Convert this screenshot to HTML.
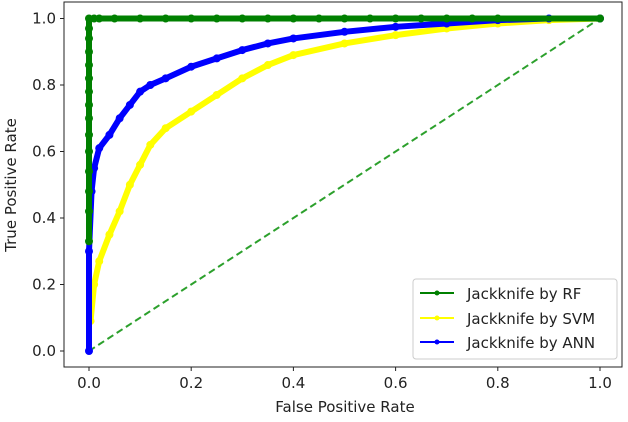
<!DOCTYPE html>
<html><head><meta charset="utf-8"><style>
body{margin:0;background:#fff;font-family:"Liberation Sans","DejaVu Sans",sans-serif;}
svg text{font-family:"DejaVu Sans","Liberation Sans",sans-serif;fill:#222;}
</style></head><body>
<svg id="chart" width="628" height="417" viewBox="0 0 628 417">
<rect x="0" y="0" width="628" height="417" fill="#fff"/>
<g id="plot"></g>
<rect x="64" y="2" width="558" height="365" fill="none" stroke="#222" stroke-width="1"/>
<g id="ticks"></g>
<text x="345" y="412" font-size="15" text-anchor="middle">False Positive Rate</text>
<text x="16" y="185" font-size="15" text-anchor="middle" transform="rotate(-90 16 185)">True Positive Rate</text>
<g>
<rect x="413" y="279" width="204" height="80" fill="#fff" fill-opacity="0.8" stroke="#ccc" rx="3"/>
<g><line x1="420" y1="293" x2="454" y2="293" stroke="green" stroke-width="2"/><circle cx="437" cy="293" r="2.5" fill="green"/><text x="467" y="299" font-size="15">Jackknife by RF</text></g>
<g><line x1="420" y1="318" x2="454" y2="318" stroke="yellow" stroke-width="2"/><circle cx="437" cy="318" r="2.5" fill="yellow"/><text x="467" y="324" font-size="15">Jackknife by SVM</text></g>
<g><line x1="420" y1="342" x2="454" y2="342" stroke="blue" stroke-width="2"/><circle cx="437" cy="342" r="2.5" fill="blue"/><text x="467" y="348" font-size="15">Jackknife by ANN</text></g>
</g>
</svg>
<script>
const xTicks=[0,0.2,0.4,0.6,0.8,1.0];
const yTicks=[0,0.2,0.4,0.6,0.8,1.0];
const rfFpr=[0,0,0,0,0,0,0,0,0,0,0,0,0,0,0,0.01,0.02,0.05,0.1,0.15,0.2,0.25,0.3,0.35,0.4,0.45,0.5,0.55,0.6,0.65,0.7,0.75,0.8,1.0];
const rfTpr=[0.33,0.42,0.48,0.54,0.6,0.65,0.7,0.74,0.78,0.82,0.86,0.9,0.94,0.97,1.0,1.0,1.0,1.0,1.0,1.0,1.0,1.0,1.0,1.0,1.0,1.0,1.0,1.0,1.0,1.0,1.0,1.0,1.0,1.0];
const svmFpr=[0.003,0.01,0.02,0.04,0.06,0.08,0.1,0.12,0.15,0.2,0.25,0.3,0.35,0.4,0.5,0.6,0.7,0.8,0.9,1.0];
const svmTpr=[0.09,0.2,0.27,0.35,0.42,0.5,0.56,0.62,0.67,0.72,0.77,0.82,0.86,0.89,0.925,0.95,0.97,0.985,0.995,1.0];
const annFpr=[0,0,0.005,0.01,0.02,0.04,0.06,0.08,0.1,0.12,0.15,0.2,0.25,0.3,0.35,0.4,0.5,0.6,0.7,0.8,0.9,1.0];
const annTpr=[0,0.3,0.48,0.55,0.61,0.65,0.7,0.74,0.78,0.8,0.82,0.855,0.88,0.905,0.925,0.94,0.96,0.975,0.985,0.995,1.0,1.0];
const NS='http://www.w3.org/2000/svg';
const xs=v=>89+v*511, ys=v=>351-v*332.5;
const plot=document.getElementById('plot'), tk=document.getElementById('ticks');
function mk(t,a,p){const e=document.createElementNS(NS,t);for(const k in a)e.setAttribute(k,a[k]);p.appendChild(e);return e;}
const diag=mk('line',{x1:xs(0),y1:ys(0),x2:xs(1),y2:ys(1),stroke:'#2ca02c','stroke-width':2,'stroke-dasharray':'7,4'},plot);


function series(fx,fy,col,name){
  const pl=mk('polyline',{points:fx.map((v,i)=>xs(v)+','+ys(fy[i])).join(' '),fill:'none',stroke:col,'stroke-width':6,'stroke-linejoin':'round','stroke-linecap':'round'},plot);
  
  
  fx.forEach((v,i)=>{const c=mk('circle',{cx:xs(v),cy:ys(fy[i]),r:4,fill:col},plot);
    
    });
}
series(svmFpr,svmTpr,'yellow','svm');
series(annFpr,annTpr,'blue','ann');
series(rfFpr,rfTpr,'green','rf');
xTicks.forEach(v=>{mk('line',{x1:xs(v),y1:367,x2:xs(v),y2:371,stroke:'#222'},tk);
  const t=mk('text',{x:xs(v),y:388,'font-size':15,'text-anchor':'middle'},tk);t.textContent=v.toFixed(1);
  
  });
yTicks.forEach(v=>{mk('line',{x1:60,y1:ys(v),x2:64,y2:ys(v),stroke:'#222'},tk);
  const t=mk('text',{x:56,y:ys(v)+5,'font-size':15,'text-anchor':'end'},tk);t.textContent=v.toFixed(1);
  
  });
</script>
</body></html>
